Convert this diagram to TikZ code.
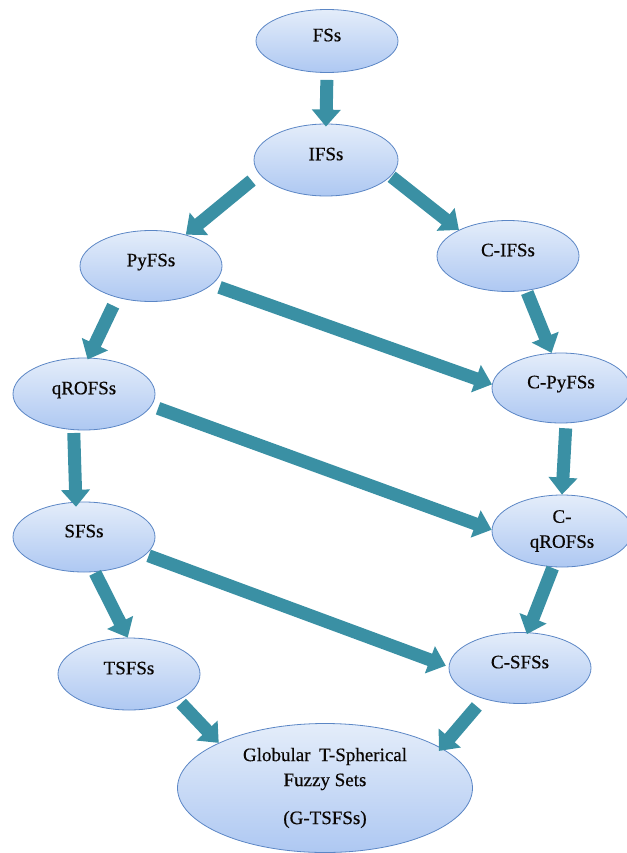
\documentclass[tikz,border=0pt]{standalone}
\usepackage{fontspec}
\setmainfont{Liberation Serif}[FakeBold=0.5]
\usetikzlibrary{arrows.meta,shapes.geometric}
\definecolor{settop}{HTML}{E4EDFA}
\definecolor{setbot}{HTML}{AEC8F2}
\definecolor{setline}{HTML}{5B86C5}
\definecolor{arrowteal}{HTML}{3A90A4}
\begin{document}
\begin{tikzpicture}[x=1pt, y=-1pt,
    setnode/.style={ellipse, draw=setline, line width=0.8pt, top color=settop, bottom color=setbot, inner sep=0pt, minimum width=142pt, minimum height=71pt, font=\fontsize{19}{25}\selectfont, text=black!95!brown, text depth=12pt},
    bigarrow/.style={draw=arrowteal, line width=13pt, -{Triangle[width=28pt,length=17pt]}}]
    \useasboundingbox (0,0) rectangle (626,853);
    \node[setnode, minimum height=63pt] (fs) at (327,41) {FSs};
    \node[setnode, minimum width=144pt, minimum height=72pt] (ifs) at (326,160) {IFSs};
    \node[setnode] (pyfs) at (151,266) {PyFSs};
    \node[setnode] (cifs) at (508,256) {C-IFSs};
    \node[setnode, minimum height=72pt] (qrofs) at (84,394) {qROFSs};
    \node[setnode, minimum width=138pt, minimum height=70pt] (cpyfs) at (561,388) {C-PyFSs};
    \node[setnode, minimum height=70pt] (sfs) at (84,537) {SFSs};
    \node[setnode, minimum width=140pt, minimum height=72pt, align=center, text depth={}] (cqrofs) at (562,531) {C-\\qROFSs};
    \node[setnode, minimum height=72pt] (tsfs) at (129,674) {TSFSs};
    \node[setnode] (csfs) at (520,668) {C-SFSs};
    \node[setnode, minimum width=295pt, minimum height=129pt, align=center, text depth={}] (g) at (325,788) {Globular\hspace{0.45em}T-Spherical\\Fuzzy Sets\\[13pt](G-TSFSs)};
    \draw[bigarrow, shorten <=7pt, shorten >=-3pt] (fs.south) -- (ifs.north);
    \draw[bigarrow, shorten <=10pt] (ifs.192) -- (pyfs.42);
    \draw[bigarrow, shorten <=1pt] (ifs.346) -- (cifs.152);
    \draw[bigarrow, shorten <=9pt, shorten >=-2pt] (pyfs.223) -- (qrofs.83);
    \draw[bigarrow, shorten <=8pt] (pyfs.343) -- (cpyfs.177);
    \draw[bigarrow, shorten <=2pt] (cifs.298) -- (cpyfs.105);
    \draw[bigarrow, shorten <=3pt, shorten >=-5pt] (qrofs.254) -- (sfs.103);
    \draw[bigarrow, shorten <=7pt] (qrofs.350) -- (cqrofs.179);
    \draw[bigarrow, shorten <=5pt] (cpyfs.278) -- (cqrofs.north);
    \draw[bigarrow, shorten <=1pt] (sfs.287) -- (tsfs.92);
    \draw[bigarrow, shorten <=3pt, shorten >=3pt] (sfs.344) -- (csfs.179);
    \draw[bigarrow, shorten <=1pt, shorten >=-2pt] (cqrofs.256) -- (csfs.78);
    \draw[bigarrow, shorten <=4pt] (tsfs.332) -- (g.157);
    \draw[bigarrow, shorten <=10pt, shorten >=-4pt] (csfs.220) -- (g.19);
\end{tikzpicture}
\end{document}
